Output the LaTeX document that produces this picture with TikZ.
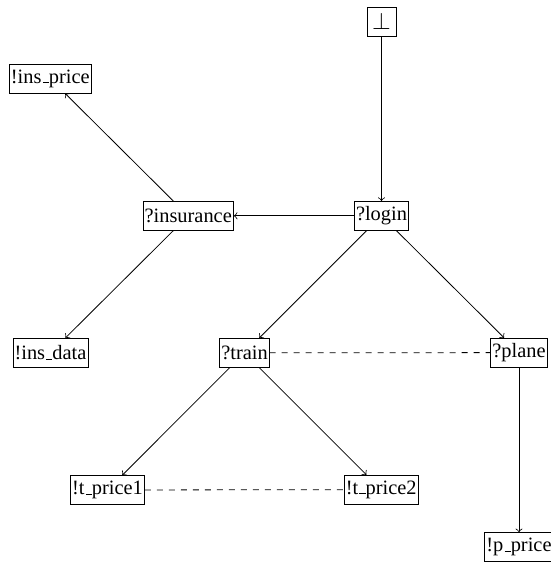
\documentclass[tikz,border=0pt]{standalone}
\usepackage{fontspec}
\setmainfont{Liberation Serif}
\newcommand\usc{\leavevmode\kern.06em\vbox{\hrule width .3em}}
\begin{document}
\begin{tikzpicture}[x=0.5pt,y=-0.5pt,
  st/.style={draw,inner xsep=0.8pt,inner ysep=0pt,minimum height=14.4pt,font=\fontsize{10.2}{12}\selectfont},
  ar/.style={->},
  dl/.style={dashed}]
\useasboundingbox (0,0) rectangle (551,563);
\node[st,minimum width=14.5pt,font=\fontsize{13}{14}\selectfont] (bot) at (381.5,21.5) {$\perp$};
\node[st] (login) at (381.5,215.8) {?login};
\node[st] (ins) at (188.2,215.8) {?insurance};
\node[st] (insp) at (50.3,78.7) {!ins\usc price};
\node[st] (insd) at (50.5,352.8) {!ins\usc data};
\node[st] (train) at (244.5,352.8) {?train};
\node[st] (plane) at (519,352.6) {?plane};
\node[st] (tp1) at (107.5,490) {!t\usc price1};
\node[st] (tp2) at (381.2,489.6) {!t\usc price2};
\node[st] (pp) at (519,547) {!p\usc price};
\draw[ar] (bot) -- (login);
\draw[ar] (login) -- (ins);
\draw[ar] (ins) -- (insp);
\draw[ar] (ins) -- (insd);
\draw[ar] (login) -- (train);
\draw[ar] (login) -- (plane);
\draw[ar] (train) -- (tp1);
\draw[ar] (train) -- (tp2);
\draw[ar] (plane) -- (pp);
\draw[dl] (train) -- (plane);
\draw[dl] (tp1) -- (tp2);
\end{tikzpicture}
\end{document}
